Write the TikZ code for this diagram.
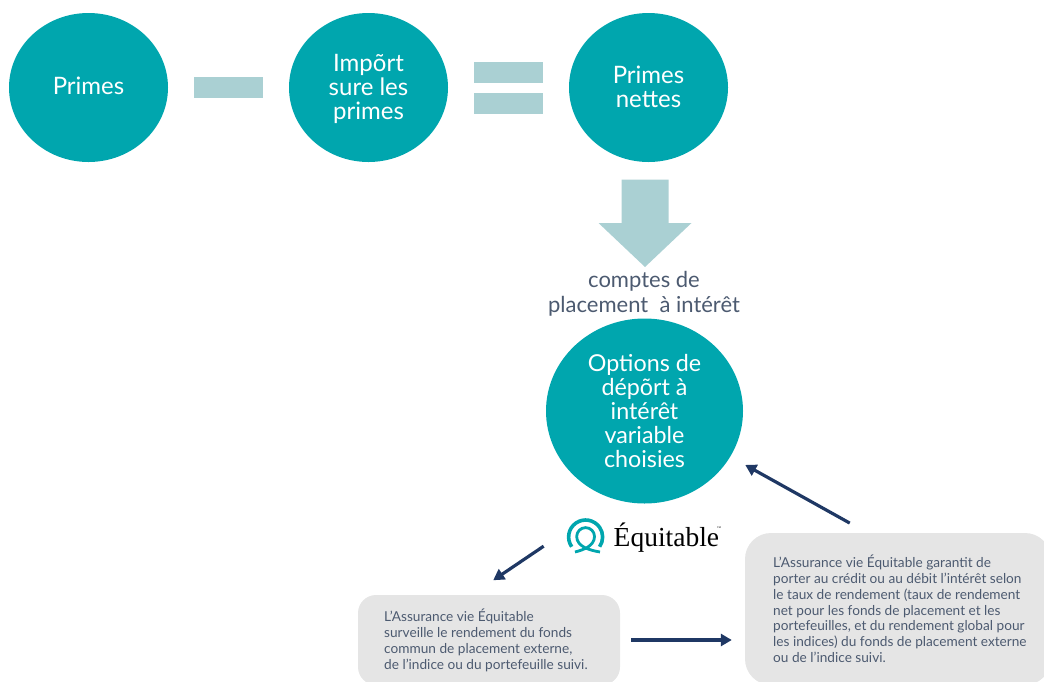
\documentclass[tikz,border=0pt]{standalone}
\usepackage{fontspec}
\setmainfont{Lato}
\newfontfamily\logofont{Liberation Serif}
\usepackage{tikz}
\usetikzlibrary{shapes.geometric,arrows.meta}
\definecolor{tealc}{HTML}{00A6AE}
\definecolor{palec}{HTML}{AAD0D3}
\definecolor{slatec}{HTML}{4C5A70}
\definecolor{navyc}{HTML}{1F3864}
\definecolor{greyc}{HTML}{E5E5E5}
\tikzset{
    bubble/.style={ellipse,fill=tealc,inner sep=0pt},
    smallbubble/.style={bubble,minimum width=159pt,minimum height=149pt},
    bubbletext/.style={text=white,inner sep=0pt,align=center,font=\fontsize{24}{24}\selectfont},
    bar/.style={fill=palec,inner sep=0pt,minimum width=69pt,minimum height=21pt},
    greybox/.style={fill=greyc,inner sep=0pt},
    boxtext/.style={anchor=north west,inner sep=0pt,text=slatec,align=left,font=\fontsize{13.65}{15.75}\selectfont},
    link/.style={draw=navyc,line width=3.2pt,-{Triangle[length=11pt,width=12pt]}}
}
\begin{document}
\begin{tikzpicture}[x=1pt,y=-1pt]
    \useasboundingbox (0,0) rectangle (1044,681);
    \clip (0,0) rectangle (1044,681);
    \node[smallbubble] (primes) at (88.5,87.5) {};
    \node[smallbubble] (impot) at (368.5,87.5) {};
    \node[smallbubble] (nettes) at (648.5,87.5) {};
    \node[bubbletext] (primestext) at (88.5,86) {Primes};
    \node[bubbletext] (impottext) at (368.5,89) {Impõrt\\sure les\\primes};
    \node[bubbletext] (nettestext) at (648.5,87) {Primes\\nettes};
    \node[bar] (minus) at (228.5,87.5) {};
    \node[bar] (eqtop) at (508.5,72.5) {};
    \node[bar] (eqbot) at (508.5,103) {};
    \fill[palec] (621.5,179.5) -- (668.5,179.5) -- (668.5,223) -- (691.5,223) -- (645,267) -- (598.5,223) -- (621.5,223) -- cycle;
    \node[text=slatec,align=center,font=\fontsize{22}{25}\selectfont] (comptes) at (644,294) {comptes de\\placement\ \ à intérêt};
    \node[bubble,minimum width=197pt,minimum height=185pt] (options) at (644.5,411) {};
    \node[bubbletext,font=\fontsize{23.3}{24}\selectfont] (optionstext) at (644.5,411) {Options de\\dépõrt à\\intérêt\\variable\\choisies};
    % logo
    \node[circle,minimum size=37pt,inner sep=0pt] (icon) at (585.6,537) {};
    \draw[tealc,line width=3.6pt] (571.7,546.75) arc[start angle=215,end angle=-35,radius=17pt];
    \draw[tealc,line width=2.8pt] (575,552) .. controls (583,550) and (594.5,546) .. (594.5,536.5) arc[start angle=0,end angle=180,radius=8.9pt] .. controls (576.7,546) and (588,550) .. (600,552);
    \node[anchor=west,inner sep=0pt,text=black,font=\logofont\fontsize{27.5}{27.5}\selectfont] (logo) at (613.5,538) {Équitable};
    \node[inner sep=0pt,text=black,font=\logofont\fontsize{4}{4}\selectfont] (logotm) at (719,528) {™};
    % boxes
    \node[greybox,rounded corners=18pt,minimum width=262pt,minimum height=90pt] (boxleft) at (489,640) {};
    \node[boxtext] (textleft) at (384,609) {L’Assurance vie Équitable\\surveille le rendement du fonds\\commun de placement externe,\\de l’indice ou du portefeuille suivi.};
    \node[greybox,rounded corners=26pt,minimum width=306pt,minimum height=152pt] (boxright) at (898,609) {};
    \node[boxtext] (textright) at (773,555) {L’Assurance vie Équitable garantit de\\porter au crédit ou au débit l’intérêt selon\\le taux de rendement (taux de rendement\\net pour les fonds de placement et les\\portefeuilles, et du rendement global pour\\les indices) du fonds de placement externe\\ou de l’indice suivi.};
    \draw[link,shorten <=30pt,shorten >=26pt] (icon.156) -- (boxleft.111);
    \draw[link,shorten <=11pt,shorten >=13pt] (boxleft.east) -- (boxleft.east -| boxright.west);
    \draw[link,shorten <=20pt,shorten >=17pt] (boxright.112) -- (options.-28);
\end{tikzpicture}
\end{document}
